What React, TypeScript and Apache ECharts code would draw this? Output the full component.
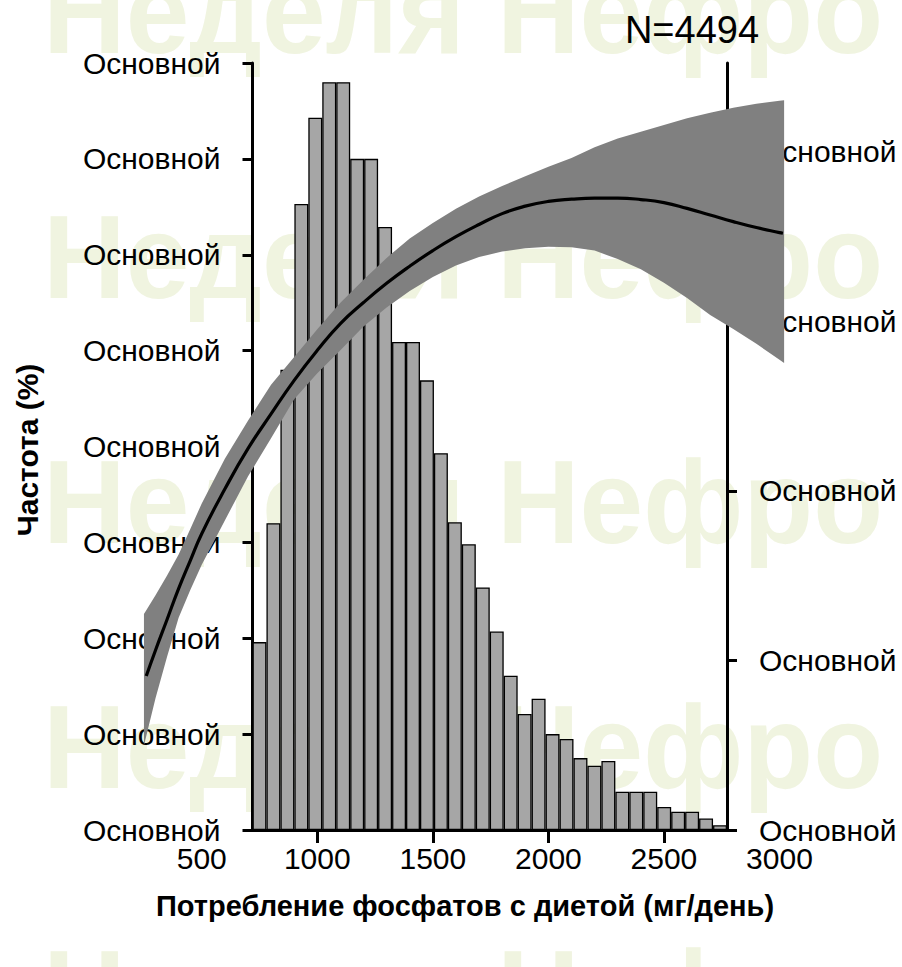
import React, { useEffect, useRef } from 'react';
import * as echarts from 'echarts';

const FONT = '"Liberation Sans", Arial, Helvetica, sans-serif';

// Histogram (frequency, %)
const binStarts = ['720', '780', '841', '901', '961', '1022', '1082', '1142', '1203', '1263', '1323', '1384', '1444', '1504', '1565', '1625', '1685', '1746', '1806', '1866', '1927', '1987', '2047', '2108', '2168', '2228', '2289', '2349', '2409', '2470', '2530', '2590', '2651', '2711'];
const frequency = [1.96, 3.2, 4.8, 6.53, 7.43, 7.8, 7.8, 7.0, 7.0, 6.29, 5.09, 5.09, 4.69, 3.93, 3.21, 2.98, 2.53, 2.07, 1.61, 1.21, 1.37, 1.0, 0.95, 0.75, 0.67, 0.72, 0.4, 0.4, 0.4, 0.24, 0.19, 0.19, 0.12, 0.05];

// Fitted curve (right axis units)
const lineX = [260, 300, 350, 400, 450, 500, 600, 700, 800, 900, 1000, 1100, 1200, 1300, 1400, 1500, 1600, 1700, 1800, 1900, 2000, 2100, 2200, 2300, 2400, 2500, 2600, 2700, 2800, 2900, 3000, 3015];
const lineY = [0.908, 1.06, 1.241, 1.423, 1.587, 1.747, 2.01, 2.248, 2.453, 2.651, 2.828, 2.986, 3.11, 3.223, 3.324, 3.416, 3.498, 3.57, 3.634, 3.678, 3.706, 3.719, 3.725, 3.725, 3.717, 3.699, 3.665, 3.626, 3.587, 3.552, 3.522, 3.518];

// Confidence band
const bandX = [250, 300, 350, 400, 450, 500, 600, 700, 800, 900, 1000, 1100, 1200, 1300, 1400, 1500, 1600, 1700, 1800, 1900, 2000, 2100, 2200, 2300, 2400, 2500, 2600, 2700, 2800, 2900, 3000, 3020];
const bandUpper = [1.274, 1.384, 1.501, 1.624, 1.773, 1.925, 2.189, 2.413, 2.625, 2.789, 2.953, 3.109, 3.244, 3.373, 3.488, 3.578, 3.663, 3.735, 3.797, 3.854, 3.91, 3.962, 4.025, 4.077, 4.117, 4.157, 4.196, 4.229, 4.258, 4.282, 4.3, 4.303];
const bandLower = [0.498, 0.777, 1.022, 1.252, 1.413, 1.564, 1.825, 2.084, 2.31, 2.54, 2.693, 2.828, 2.968, 3.081, 3.178, 3.26, 3.328, 3.378, 3.41, 3.43, 3.438, 3.436, 3.416, 3.366, 3.306, 3.226, 3.136, 3.037, 2.954, 2.867, 2.772, 2.753];

// Tick labels
const leftTickLabels = ['Основной', 'Основной', 'Основной', 'Основной', 'Основной', 'Основной', 'Основной', 'Основной', 'Основной'];
const rightTickValues = [0, 1, 2, 3, 4];
const rightTickLabels = ['Основной', 'Основной', 'Основной', 'Основной', 'Основной'];
const xTickValues = [1000, 1500, 2000, 2500];
const xLabelValues = [500, 1000, 1500, 2000, 2500, 3000];
const xLabelTexts = ['500', '1000', '1500', '2000', '2500', '3000'];

const xTitle = 'Потребление фосфатов с диетой (мг/день)';
const yTitle = 'Частота (%)';
const nText = 'N=4494';
const watermark = 'Неделя Нефро';
const watermarkRows = [12, 257, 502, 747, 992];

const RIGHT_MAX = 4.522;

export default function App() {
  const ref = useRef<HTMLDivElement>(null);
  useEffect(() => {
    const chart = echarts.init(ref.current!, null, { renderer: 'svg' });
    const tickStyle = { color: '#000', width: 3 };
    const labelBase = { color: '#000', fontSize: 30, lineHeight: 30, fontFamily: FONT };
    const option: any = {
      animation: false,
      backgroundColor: '#fff',
      grid: [
        { left: 252.5, right: 175, top: 63, bottom: 137, outerBoundsMode: 'none' },
        { left: 132.4, right: 99.4, top: 63, bottom: 137, outerBoundsMode: 'none' },
      ],
      xAxis: [
        {
          type: 'category', gridIndex: 0, data: binStarts, position: 'bottom',
          axisLine: { show: true, lineStyle: tickStyle }, axisTick: { show: false }, axisLabel: { show: false }, splitLine: { show: false },
        },
        {
          type: 'category', gridIndex: 0, data: binStarts, position: 'top',
          axisLine: { show: true, lineStyle: tickStyle }, axisTick: { show: false }, axisLabel: { show: false }, splitLine: { show: false },
        },
        {
          type: 'value', gridIndex: 1, min: 200, max: 3100, position: 'bottom',
          axisLine: { show: false }, splitLine: { show: false },
          axisTick: { show: true, customValues: xTickValues, length: 13, lineStyle: tickStyle },
          axisLabel: {
            ...labelBase, margin: 13, customValues: xLabelValues,
            formatter: (v: number) => { const i = xLabelValues.indexOf(v); return i >= 0 ? xLabelTexts[i] : ''; },
          },
        },
      ],
      yAxis: [
        {
          type: 'value', gridIndex: 0, min: 0, max: 8, interval: 1, position: 'left',
          axisLine: { show: true, lineStyle: tickStyle },
          axisTick: { show: true, length: 10, lineStyle: tickStyle },
          axisLabel: { ...labelBase, margin: 32, formatter: (_v: number, i: number) => leftTickLabels[i] ?? '' },
          splitLine: { show: false },
        },
        {
          type: 'value', gridIndex: 0, min: 0, max: RIGHT_MAX, position: 'right',
          axisLine: { show: true, lineStyle: tickStyle },
          axisTick: { show: true, length: 10, lineStyle: tickStyle, customValues: rightTickValues },
          axisLabel: {
            ...labelBase, margin: 32, customValues: rightTickValues,
            formatter: (v: number) => { const i = rightTickValues.indexOf(v); return i >= 0 ? rightTickLabels[i] : ''; },
          },
          splitLine: { show: false },
        },
        { type: 'value', gridIndex: 1, min: 0, max: RIGHT_MAX, show: false },
      ],
      series: [
        {
          type: 'bar', xAxisIndex: 0, yAxisIndex: 0, data: frequency, barCategoryGap: '0%', z: 2,
          itemStyle: { color: '#a6a6a6', borderColor: '#000', borderWidth: 1.3 },
        },
        {
          type: 'custom', xAxisIndex: 2, yAxisIndex: 2, data: [[1000, 2]], z: 3, silent: true,
          renderItem: (_p: any, api: any) => {
            const pts: number[][] = [];
            for (let i = 0; i < bandX.length; i++) pts.push(api.coord([bandX[i], bandUpper[i]]));
            for (let i = bandX.length - 1; i >= 0; i--) pts.push(api.coord([bandX[i], bandLower[i]]));
            return { type: 'polygon', shape: { points: pts }, style: { fill: '#808080', stroke: 'none' } };
          },
        },
        {
          type: 'line', xAxisIndex: 2, yAxisIndex: 2, z: 4, smooth: true, showSymbol: false, symbol: 'none',
          data: lineX.map((x, i) => [x, lineY[i]]),
          lineStyle: { color: '#000', width: 3.2 },
        },
      ],
      graphic: [
        ...watermarkRows.map((y) => ({
          type: 'text', x: 43, y, z: -10, silent: true, scaleX: 0.97,
          style: { text: watermark, fill: '#f0f4e0', font: `bold 118px ${FONT}`, align: 'left', verticalAlign: 'middle' },
        })),
        {
          type: 'text', x: 692, y: 30, z: 10,
          style: { text: nText, fill: '#000', font: `38px ${FONT}`, align: 'center', verticalAlign: 'middle' },
        },
        {
          type: 'text', x: 27, y: 450, z: 10, rotation: Math.PI / 2,
          style: { text: yTitle, fill: '#000', font: `bold 30px ${FONT}`, align: 'center', verticalAlign: 'middle' },
        },
        {
          type: 'text', x: 465, y: 906, z: 10,
          style: { text: xTitle, fill: '#000', font: `bold 29px ${FONT}`, align: 'center', verticalAlign: 'middle' },
        },
      ],
    };
    chart.setOption(option);
    return () => chart.dispose();
  }, []);
  return <div ref={ref} style={{ position: 'fixed', left: 0, top: 0, width: 902, height: 967, background: '#fff' }} />;
}
